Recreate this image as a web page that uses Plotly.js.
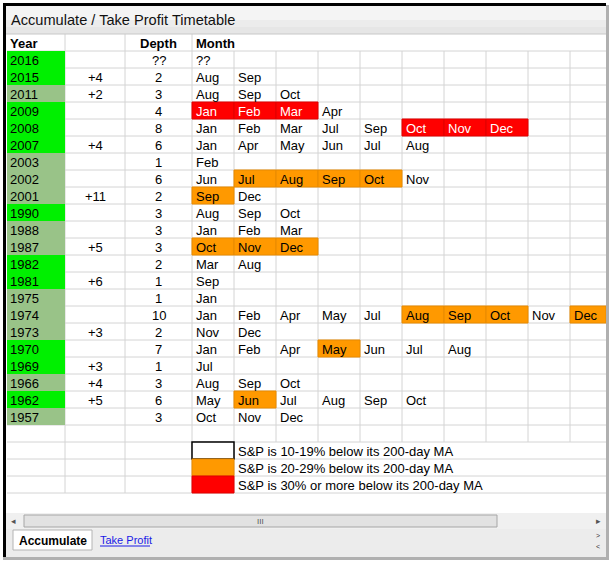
<!DOCTYPE html>
<html>
<head>
<meta charset="utf-8">
<script src="https://cdn.plot.ly/plotly-3.0.1.min.js"></script>
<style>
  body { margin: 0; background: #fff; }
  #plotArea { width: 612px; height: 565px; }
</style>
</head>
<body>
<div id="plotArea"></div>
<script>
// table data
var years  = ["2016", "2015", "2011", "2009", "2008", "2007", "2003", "2002", "2001", "1990", "1988",
              "1987", "1982", "1981", "1975", "1974", "1973", "1970", "1969", "1966", "1962", "1957"];
var extra  = ["", "+4", "+2", "", "", "+4", "", "", "+11", "", "",
              "+5", "", "+6", "", "", "+3", "", "+3", "+4", "+5", ""];
var depth  = ["??", "2", "3", "4", "8", "6", "1", "6", "2", "3", "3",
              "3", "2", "1", "1", "10", "2", "7", "1", "3", "6", "3"];
// g = bright green year, m = muted green year
var yearShade = ["g", "g", "m", "g", "g", "g", "m", "m", "m", "g", "m",
                 "m", "g", "g", "m", "m", "m", "g", "g", "m", "g", "m"];
var months = [
    ["??"],
    ["Aug", "Sep"],
    ["Aug", "Sep", "Oct"],
    ["Jan", "Feb", "Mar", "Apr"],
    ["Jan", "Feb", "Mar", "Jul", "Sep", "Oct", "Nov", "Dec"],
    ["Jan", "Apr", "May", "Jun", "Jul", "Aug"],
    ["Feb"],
    ["Jun", "Jul", "Aug", "Sep", "Oct", "Nov"],
    ["Sep", "Dec"],
    ["Aug", "Sep", "Oct"],
    ["Jan", "Feb", "Mar"],
    ["Oct", "Nov", "Dec"],
    ["Mar", "Aug"],
    ["Sep"],
    ["Jan"],
    ["Jan", "Feb", "Apr", "May", "Jul", "Aug", "Sep", "Oct", "Nov", "Dec"],
    ["Nov", "Dec"],
    ["Jan", "Feb", "Apr", "May", "Jun", "Jul", "Aug"],
    ["Jul"],
    ["Aug", "Sep", "Oct"],
    ["May", "Jun", "Jul", "Aug", "Sep", "Oct"],
    ["Oct", "Nov", "Dec"]
];
// 0 = 10-19% (no fill), 1 = 20-29% (orange), 2 = 30%+ (red)
var monthLevel = [
    [0],
    [0, 0],
    [0, 0, 0],
    [2, 2, 2, 0],
    [0, 0, 0, 0, 0, 2, 2, 2],
    [0, 0, 0, 0, 0, 0],
    [0],
    [0, 1, 1, 1, 1, 0],
    [1, 0],
    [0, 0, 0],
    [0, 0, 0],
    [1, 1, 1],
    [0, 0],
    [0],
    [0],
    [0, 0, 0, 0, 0, 1, 1, 1, 0, 1],
    [0, 0],
    [0, 0, 0, 1, 0, 0, 0],
    [0],
    [0, 0, 0],
    [0, 1, 0, 0, 0, 0],
    [0, 0, 0]
];
var legendText = ["S&P is 10-19% below its 200-day MA",
                  "S&P is 20-29% below its 200-day MA",
                  "S&P is 30% or more below its 200-day MA"];

// sheet geometry (pixels)
var colEdge = [7, 65, 125, 192, 234, 276, 318, 360, 402, 444, 486, 528, 570, 606];
var headTop = 34, rowTop = 51, rowH = 17;
var FONT = "Liberation Sans, Arial, sans-serif";
var levelFill = ["#ffffff", "#ff9900", "#ff0000"];
var levelLine = ["#000000", "#e88a00", "#e00000"];
var shadeFill = {g: "#00f000", m: "#99c388"};

var shapes = [];
var notes = [];

function rect(x0, y0, x1, y1, fill, line, lw) {
    shapes.push({type: "rect", xref: "x", yref: "y", x0: x0, y0: y0, x1: x1, y1: y1,
        fillcolor: fill, line: {color: line || fill, width: lw === undefined ? 0 : lw}, layer: "below"});
}
function seg(x0, y0, x1, y1, color, w) {
    shapes.push({type: "line", xref: "x", yref: "y", x0: x0, y0: y0, x1: x1, y1: y1,
        line: {color: color, width: w || 1}, layer: "below"});
}
function txt(x, y, s, opts) {
    opts = opts || {};
    notes.push({xref: "x", yref: "y", x: x, y: y, text: s, showarrow: false,
        xanchor: opts.anchor || "left", yanchor: "middle", borderpad: 0, borderwidth: 0,
        font: {family: FONT, size: opts.size || 13, color: opts.color || "#000"}});
}

var nRows = years.length + 1;          // data rows + one empty row
var gridBottom = rowTop + nRows * rowH;
var legBottom = gridBottom + legendText.length * rowH;
var grid = "#d4d4d4";

// gridlines
for (var k = 0; k <= nRows + legendText.length; k++) {
    seg(colEdge[0], rowTop + k * rowH, colEdge[colEdge.length - 1], rowTop + k * rowH, grid);
}
colEdge.slice(1, -1).forEach(function (x, i) {
    var top = i < 3 ? headTop : rowTop;
    var bot = i < 4 ? legBottom : gridBottom;
    seg(x, top, x, bot, grid);
});

// header
txt(colEdge[0] + 3, headTop + rowH / 2 + 0.5, "<b>Year</b>");
txt((colEdge[2] + colEdge[3]) / 2, headTop + rowH / 2 + 0.5, "<b>Depth</b>", {anchor: "center"});
txt(colEdge[3] + 4, headTop + rowH / 2 + 0.5, "<b>Month</b>");

// body rows
years.forEach(function (yr, i) {
    var y0 = rowTop + i * rowH, yc = y0 + rowH / 2 + 0.5;
    rect(colEdge[0], y0, colEdge[1], y0 + rowH, shadeFill[yearShade[i]]);
    txt(colEdge[0] + 3, yc, yr);
    if (extra[i]) txt((colEdge[1] + colEdge[2]) / 2, yc, extra[i], {anchor: "center"});
    txt((colEdge[2] + colEdge[3]) / 2, yc, depth[i], {anchor: "center"});
    months[i].forEach(function (m, j) {
        var lv = monthLevel[i][j];
        var x0 = colEdge[3 + j], x1 = colEdge[4 + j];
        if (lv > 0) rect(x0, y0, x1, y0 + rowH, levelFill[lv], levelLine[lv], 1);
        txt(x0 + 4, yc, m, {color: lv === 2 ? "#ffffff" : "#000"});
    });
});

// legend
legendText.forEach(function (s, i) {
    var y0 = gridBottom + i * rowH;
    rect(colEdge[3], y0, colEdge[4], y0 + rowH, levelFill[i], levelLine[i], i === 0 ? 1.5 : 1);
    txt(colEdge[4] + 4, y0 + rowH / 2 + 0.5, s);
});

// window chrome
rect(6, 6, 606, 34, "#f4f4f4");
rect(6, 20, 606, 34, "#ececec");
rect(6, 27, 606, 34, "#e6e6e6");
seg(6, 34, 606, 34, "#c8c8c8");
txt(11, 20, "Accumulate / Take Profit Timetable", {size: 14.6, color: "#111"});

rect(6, 513, 606, 529, "#f0f0f0");
rect(24, 515, 497, 527, "#e2e2e2", "#a6a6a6", 1);
txt(260, 521, "III", {size: 8, anchor: "center", color: "#555"});
txt(13, 521, "◂", {size: 9, anchor: "center", color: "#555"});
txt(598, 521, "▸", {size: 9, anchor: "center", color: "#555"});
rect(6, 529, 606, 557, "#ececec");
rect(13, 530, 92, 550, "#ffffff", "#b4b4b4", 1);
txt(52.5, 540.5, "<b>Accumulate</b>", {size: 12, anchor: "center"});
txt(100, 540, "Take Profit", {size: 11, color: "#1a1ae6"});
seg(100, 546, 150, 546, "#1a1ae6");
txt(598, 535, ">", {size: 7, anchor: "center", color: "#333"});
txt(598, 546, "<", {size: 7, anchor: "center", color: "#333"});

rect(3, 3, 6, 557, "#000000");
rect(3, 3, 606, 6, "#000000");
rect(606, 5, 609, 560, "#b0b0b0");
rect(3, 557, 609, 560, "#b0b0b0");

var layout = {
    width: 612, height: 565,
    margin: {l: 0, r: 0, t: 0, b: 0},
    paper_bgcolor: "#fff", plot_bgcolor: "#fff",
    xaxis: {range: [0, 612], visible: false, fixedrange: true},
    yaxis: {range: [565, 0], visible: false, fixedrange: true},
    shapes: shapes,
    annotations: notes,
    showlegend: false
};

Plotly.newPlot("plotArea", [], layout, {staticPlot: true});
</script>
</body>
</html>
